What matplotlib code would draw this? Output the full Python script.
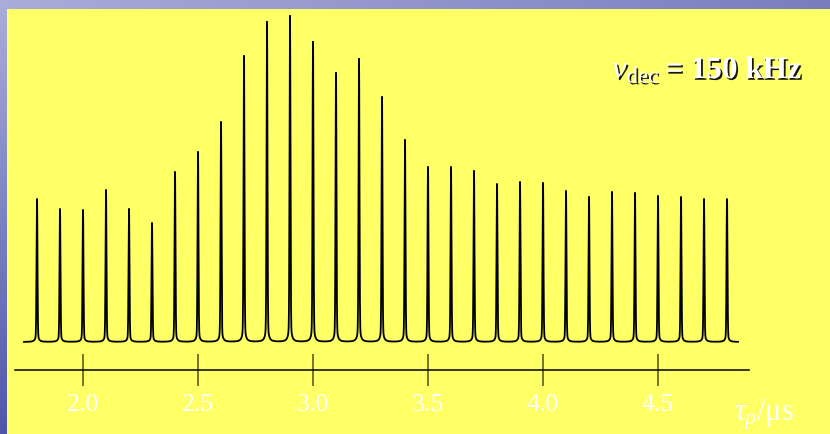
import numpy as np
import matplotlib
matplotlib.use("Agg")
import matplotlib.pyplot as plt
import matplotlib.patheffects as pe

plt.rcParams["font.family"] = ["Liberation Serif", "DejaVu Serif"]
plt.rcParams["mathtext.fontset"] = "custom"
plt.rcParams["mathtext.rm"] = "Liberation Serif"
plt.rcParams["mathtext.it"] = "Liberation Serif:italic"
plt.rcParams["mathtext.bf"] = "Liberation Serif:bold"

# pulse length τp (µs) for each recorded spectrum
tau_p = [1.8, 1.9, 2.0, 2.1, 2.2, 2.3, 2.4, 2.5, 2.6, 2.7, 2.8,
         2.9, 3.0, 3.1, 3.2, 3.3, 3.4, 3.5, 3.6, 3.7, 3.8, 3.9,
         4.0, 4.1, 4.2, 4.3, 4.4, 4.5, 4.6, 4.7, 4.8]
# peak intensity (arb. units) of each spectrum
intensity = [143, 133, 132, 152, 133, 119, 170, 190, 220, 286, 320,
             326, 300, 269, 283, 245, 202, 175, 175, 171, 158, 160,
             159, 151, 145, 150, 149, 146, 145, 143, 143]

tick_vals = [2.0, 2.5, 3.0, 3.5, 4.0, 4.5]
tick_labels = ["2.0", "2.5", "3.0", "3.5", "4.0", "4.5"]

YELLOW = "#ffff66"
OLIVE = "#75752c"

W, H = 830, 435
fig = plt.figure(figsize=(W / 100, H / 100), dpi=100)
fig.patch.set_facecolor("#6367ba")

# bluish slide background
bg = fig.add_axes([0, 0, 1, 1])
yy, xx = np.mgrid[0:1:200j, 0:1:200j]
t = np.clip(0.32 + 0.65 * yy + 0.35 * xx, 0, 1)
light = np.array([0.84, 0.85, 0.94])
dark = np.array([0.30, 0.32, 0.66])
img = light * (1 - t[..., None]) + dark * t[..., None]
bg.imshow(img, aspect="auto", extent=[0, 1, 0, 1], origin="upper")
bg.set_axis_off()

# spectrum panel: x in µs, y in intensity units (1 unit = 1 px)
ax = fig.add_axes([7 / W, 0, 1 - 7 / W, 1 - 10 / H])
ax.set_facecolor(YELLOW)
px = 0.1 / 23.0
ax.set_xlim(1.8 - 30 * px, 1.8 + 793 * px)
ax.set_ylim(-92, 333)


def lineshape(x, c, h):
    # sharp central line sitting on a small lorentzian foot
    foot = 0.07 * h
    w = 1.3 * px
    lor = w ** 2 / ((x - c) ** 2 + w ** 2)
    gau = np.exp(-0.5 * ((x - c) / (0.45 * px)) ** 2)
    return (h - foot) * gau + foot * lor


x = np.linspace(1.8 - 13 * px, 1.8 + 701 * px, 20000)
x = np.sort(np.concatenate([x, tau_p]))
y = np.zeros_like(x)
for c, h in zip(tau_p, intensity):
    y += lineshape(x, c, h)
ax.plot(x, y, color="black", lw=1.3, solid_joinstyle="round")

# τp axis drawn below the spectra
for s in ("left", "right", "top"):
    ax.spines[s].set_visible(False)
ax.spines["bottom"].set_position(("data", -28))
ax.spines["bottom"].set_bounds(1.8 - 22 * px, 1.8 + 712 * px)
ax.spines["bottom"].set_linewidth(1.1)
ax.set_yticks([])
ax.set_xticks(tick_vals)
ax.set_xticklabels(tick_labels)
ax.tick_params(axis="x", direction="inout", length=23, width=1.4,
               color=OLIVE, labelcolor="white", labelsize=18.5, pad=5)

ax.text(1.8 + 697 * px, -78, r"$\tau_p$/μs", color="white",
        fontsize=22, va="baseline", ha="left")

shadow = [pe.withSimplePatchShadow(offset=(1.3, -1.3), shadow_rgbFace="black",
                                   alpha=0.9)]
ax.text(1.8 + 575 * px, 264, r"$\nu_{\mathrm{dec}}$", color="white",
        fontsize=23.5, va="baseline", ha="left", path_effects=shadow)
ax.text(1.8 + 628 * px, 264, "= 150 kHz", color="white", fontsize=22.5,
        fontweight="bold", va="baseline", ha="left", path_effects=shadow)

fig.savefig("out.png", dpi=100)
